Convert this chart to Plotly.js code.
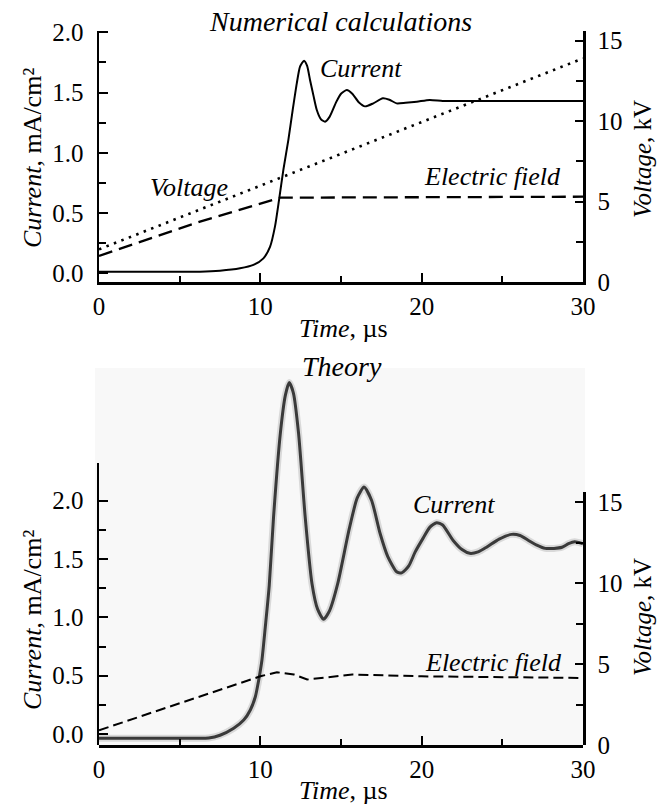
<!DOCTYPE html>
<html>
<head>
<meta charset="utf-8">
<script src="https://cdn.plot.ly/plotly-3.0.1.min.js"></script>
<style>
html,body{margin:0;padding:0;background:#fff;}
#chart{width:658px;height:805px;}
#chart svg text{font-family:'Liberation Serif','Times New Roman',serif !important;}
</style>
</head>
<body>
<div id="chart"></div>
<script>
// ---------- Top panel: Numerical calculations ----------
var numTime = [0, 2, 4, 6.26, 7.5, 8.74, 9.57, 10.19, 10.6, 10.91, 11.16, 11.43, 11.74, 12.0, 12.26, 12.46, 12.71, 12.9, 13.08, 13.3, 13.5, 13.75, 14.01, 14.3, 14.7, 15.0, 15.36, 15.7, 16.1, 16.49, 17.0, 17.59, 18.0, 18.45, 19.0, 19.7, 20.5, 21.3, 22.2, 25, 30];
var numCurrent = [0.014, 0.014, 0.014, 0.014, 0.022, 0.042, 0.07, 0.125, 0.22, 0.39, 0.61, 0.86, 1.11, 1.35, 1.576, 1.714, 1.764, 1.72, 1.604, 1.47, 1.355, 1.28, 1.258, 1.30, 1.42, 1.49, 1.52, 1.49, 1.42, 1.385, 1.41, 1.452, 1.44, 1.41, 1.415, 1.424, 1.438, 1.43, 1.43, 1.43, 1.43];
var numVoltTime = [0, 30];
var numVoltage = [2.04, 13.9];
var numFieldTime = [0, 6.26, 11.22, 30];
var numField = [1.63, 3.76, 5.25, 5.31];

// ---------- Bottom panel: Theory ----------
var thTime = [0, 2, 4, 6, 6.8, 7.5, 8.35, 8.97, 9.38, 9.69, 9.9, 10.1, 10.31, 10.55, 10.82, 11.24, 11.55, 11.79, 12.05, 12.37, 12.78, 13.2, 13.55, 13.92, 14.3, 14.8, 15.5, 16.0, 16.43, 16.9, 17.42, 17.9, 18.45, 18.76, 19.2, 19.6, 20.1, 20.5, 20.93, 21.3, 21.94, 22.5, 22.98, 23.5, 24.02, 24.8, 25.58, 26.1, 26.6, 27.1, 27.66, 28.2, 28.7, 29.1, 29.48, 30];
var thCurrent = [-0.036, -0.036, -0.036, -0.036, -0.034, -0.01, 0.05, 0.12, 0.206, 0.32, 0.463, 0.634, 0.92, 1.27, 1.86, 2.575, 2.9, 3.01, 2.92, 2.575, 1.86, 1.29, 1.07, 0.983, 1.06, 1.29, 1.75, 2.02, 2.115, 2.0, 1.72, 1.52, 1.39, 1.38, 1.44, 1.56, 1.68, 1.77, 1.81, 1.79, 1.66, 1.58, 1.548, 1.56, 1.60, 1.67, 1.71, 1.70, 1.66, 1.62, 1.59, 1.59, 1.60, 1.63, 1.647, 1.63];
var thFieldTime = [0, 10, 11.03, 12.08, 12.9, 14.5, 15.7, 20, 30];
var thField = [0.91, 4.24, 4.49, 4.35, 4.04, 4.2, 4.35, 4.24, 4.14];

// tick values
var timeTicks = [0, 10, 20, 30];
var currentTicks = [0, 0.5, 1.0, 1.5, 2.0];
var currentMinorTicks = [0.25, 0.75, 1.25, 1.75];
var voltTicks = [0, 5, 10, 15];

var W = 658, H = 805;
function px(x){ return x / W; }
function py(y){ return 1 - y / H; }

var FONT = 'Liberation Serif';
function tickFont(){ return {family: FONT, size: 25, color: '#000'}; }

function axisBase(extra){
  var a = {
    showgrid: false, zeroline: false, showline: true, linecolor: '#000', linewidth: 2.5,
    ticks: 'inside', ticklen: 9, tickwidth: 2, tickcolor: '#000',
    tickfont: tickFont(), fixedrange: true
  };
  for (var k in extra) a[k] = extra[k];
  return a;
}

var traces = [
  {x: numTime, y: numCurrent, xaxis: 'x', yaxis: 'y', mode: 'lines', line: {color: '#000', width: 2, shape: 'spline', smoothing: 0.6}, hoverinfo: 'skip', showlegend: false},
  {x: numVoltTime, y: numVoltage, xaxis: 'x', yaxis: 'y2', mode: 'lines', line: {color: '#000', width: 2.6, dash: '2.5px,5.5px'}, hoverinfo: 'skip', showlegend: false},
  {x: numFieldTime, y: numField, xaxis: 'x', yaxis: 'y2', mode: 'lines', line: {color: '#000', width: 2.3, dash: '14px,7px'}, hoverinfo: 'skip', showlegend: false},
  {x: thTime, y: thCurrent, xaxis: 'x2', yaxis: 'y3', mode: 'lines', line: {color: 'rgba(0,0,0,0.12)', width: 7, shape: 'spline', smoothing: 0.6}, hoverinfo: 'skip', showlegend: false},
  {x: thTime, y: thCurrent, xaxis: 'x2', yaxis: 'y3', mode: 'lines', line: {color: '#3a3a3a', width: 3, shape: 'spline', smoothing: 0.6}, hoverinfo: 'skip', showlegend: false},
  {x: thFieldTime, y: thField, xaxis: 'x2', yaxis: 'y5', mode: 'lines', line: {color: '#000', width: 2, dash: '10px,5px'}, hoverinfo: 'skip', showlegend: false},
  {x: [null], y: [null], xaxis: 'x2', yaxis: 'y4', mode: 'lines', hoverinfo: 'skip', showlegend: false}
];

var xdom = [px(99), px(583)];

var layout = {
  width: W, height: H,
  margin: {l: 0, r: 0, t: 0, b: 0, pad: 0},
  paper_bgcolor: '#fff', plot_bgcolor: 'rgba(0,0,0,0)',
  showlegend: false,
  font: {family: FONT, color: '#000', size: 25},
  xaxis: axisBase({domain: xdom, range: [0, 30], anchor: 'y', tickvals: timeTicks,
    minor: {dtick: 5, ticks: 'inside', ticklen: 6, tickwidth: 2, tickcolor: '#000'}}),
  yaxis: axisBase({domain: [py(282.2), py(31)], range: [-0.073, 2.010], anchor: 'x', tickvals: currentTicks, tickformat: '.1f', ticklabelstandoff: 8,
    minor: {tickvals: currentMinorTicks, ticks: 'inside', ticklen: 7, tickwidth: 2, tickcolor: '#000'}}),
  yaxis2: axisBase({overlaying: 'y', side: 'right', anchor: 'x', range: [0, 15.602], tickvals: voltTicks, ticklen: 8, ticklabelstandoff: 7,
    minor: {dtick: 2.5, ticks: 'inside', ticklen: 7, tickwidth: 2, tickcolor: '#000'}}),
  xaxis2: axisBase({domain: xdom, range: [0, 30], anchor: 'y3', tickvals: timeTicks,
    minor: {dtick: 5, ticks: 'inside', ticklen: 6, tickwidth: 2, tickcolor: '#000'}}),
  yaxis3: {domain: [py(745), py(370)], range: [-0.0933, 3.1173], anchor: 'x2', visible: false, showgrid: false, zeroline: false, fixedrange: true},
  yaxis4: axisBase({domain: [py(745), py(462.7)], range: [-0.0933, 2.3236], anchor: 'x2', tickvals: currentTicks, tickformat: '.1f', ticklabelstandoff: 8,
    minor: {tickvals: currentMinorTicks, ticks: 'inside', ticklen: 7, tickwidth: 2, tickcolor: '#000'}}),
  yaxis5: axisBase({domain: [py(745), py(491.7)], range: [0, 15.636], anchor: 'x2', side: 'right', tickvals: voltTicks, ticklen: 8, ticklabelstandoff: 7,
    minor: {dtick: 2.5, ticks: 'inside', ticklen: 7, tickwidth: 2, tickcolor: '#000'}}),
  shapes: [
    {type: 'rect', xref: 'paper', yref: 'paper', x0: px(95), x1: px(585), y0: py(745), y1: py(368),
     fillcolor: '#f8f8f8', line: {width: 0}, layer: 'below'}
  ],
  annotations: []
};

function ann(text, x, y, size, angle){
  layout.annotations.push({text: text, xref: 'paper', yref: 'paper', x: px(x), y: py(y),
    xanchor: 'center', yanchor: 'middle', showarrow: false, textangle: angle || 0,
    font: {family: FONT, size: size, color: '#000'}});
}
// top
ann('<i>Numerical calculations</i>', 341, 22, 28);
ann('<i>Current</i>', 361, 68, 26);
ann('<i>Voltage</i>', 189, 187, 26);
ann('<i>Electric field</i>', 492, 176, 26);
ann('<i>Time</i>, \u00B5s', 343, 328, 26);
ann('<i>Current</i>, mA/cm\u00B2', 32, 158, 26, -90);
ann('<i>Voltage</i>, kV', 642, 159, 25, -90);
// bottom
ann('<i>Theory</i>', 342, 366, 28);
ann('<i>Current</i>', 454, 504, 26);
ann('<i>Electric field</i>', 493, 662, 26);
ann('<i>Time</i>, \u00B5s', 343, 790, 26);
ann('<i>Current</i>, mA/cm\u00B2', 32, 620, 26, -90);
ann('<i>Voltage</i>, kV', 642, 617, 25, -90);

function draw(){
  Plotly.newPlot('chart', traces, layout, {staticPlot: true, displayModeBar: false});
}
if (document.fonts && document.fonts.load) {
  Promise.all([
    document.fonts.load('25px "Liberation Serif"'),
    document.fonts.load('italic 26px "Liberation Serif"')
  ]).then(draw, draw);
} else {
  draw();
}
</script>
</body>
</html>
